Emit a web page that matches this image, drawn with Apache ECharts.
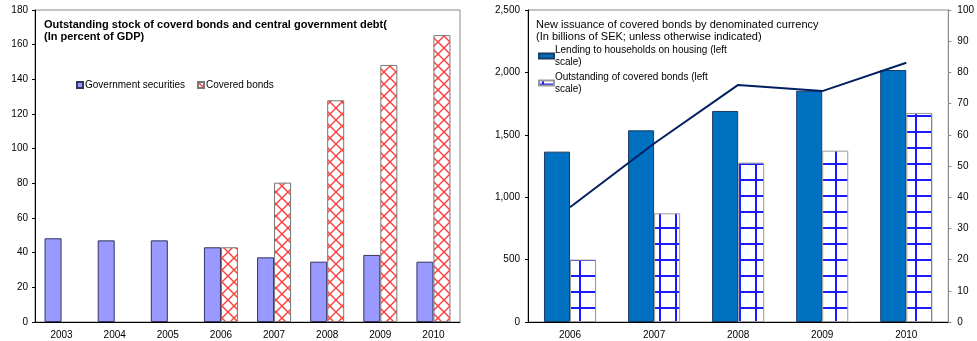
<!DOCTYPE html>
<html>
<head>
<meta charset="utf-8">
<script src="https://cdn.jsdelivr.net/npm/echarts@6/dist/echarts.min.js"></script>
<style>
  html, body { margin: 0; padding: 0; background: #fff; }
  #chart { width: 977px; height: 341px; }
</style>
</head>
<body>
<div id="chart"></div>
<script>
// Left panel: outstanding stock, % of GDP
const stockYears = ['2003', '2004', '2005', '2006', '2007', '2008', '2009', '2010'];
const govSecurities = [48.3, 47.1, 47.1, 43.1, 37.3, 34.8, 38.7, 34.8];
const coveredBonds = [null, null, null, 43.1, 80.4, 127.9, 148.3, 165.5];

// Right panel: issuance, billions of SEK (bars) and right-scale line
const issueYears = ['2006', '2007', '2008', '2009', '2010'];
const lendingHousing = [1365, 1536, 1691, 1853, 2019];
const outstandingCovered = [500, 871, 1277, 1373, 1675];
const rightScaleLine = [36.8, 57.2, 76.0, 74.0, 83.1];

const FONT = 'Liberation Sans, Arial, sans-serif';

// red lattice fill for covered bonds
function crossHatch() {
  const s = 12;
  const c = document.createElement('canvas');
  c.width = s; c.height = s;
  const g = c.getContext('2d');
  g.fillStyle = '#ffffff';
  g.fillRect(0, 0, s, s);
  g.strokeStyle = '#ff3c3c';
  g.lineWidth = 1.4;
  g.beginPath();
  g.moveTo(-1, -1); g.lineTo(s + 1, s + 1);
  g.moveTo(s + 1, -1); g.lineTo(-1, s + 1);
  g.stroke();
  return c;
}

// blue square grid fill for outstanding covered bonds
function blueGrid() {
  const s = 16;
  const c = document.createElement('canvas');
  c.width = s; c.height = s;
  const g = c.getContext('2d');
  g.fillStyle = '#ffffff';
  g.fillRect(0, 0, s, s);
  g.strokeStyle = '#1a1aff';
  g.lineWidth = 2;
  g.beginPath();
  g.moveTo(4, 0); g.lineTo(4, s);
  g.moveTo(0, 4); g.lineTo(s, 4);
  g.stroke();
  return c;
}

const redPattern = { image: crossHatch(), repeat: 'repeat' };
const bluePattern = { image: blueGrid(), repeat: 'repeat' };

const axisText = { color: '#000', fontSize: 10, fontFamily: FONT };

const chart = echarts.init(document.getElementById('chart'), null, { renderer: 'canvas' });

chart.setOption({
  animation: false,
  backgroundColor: '#fff',
  textStyle: { fontFamily: FONT },
  title: [
    {
      text: 'Outstanding stock of coverd bonds and central government debt(\n(In percent of GDP)',
      left: 39, top: 14,
      textStyle: { fontSize: 11, fontWeight: 'bold', color: '#000', fontFamily: FONT, lineHeight: 12 }
    },
    {
      text: 'New issuance of covered bonds by denominated currency\n(In billions of SEK; unless otherwise indicated)',
      left: 531, top: 14,
      textStyle: { fontSize: 11, fontWeight: 'normal', color: '#000', fontFamily: FONT, lineHeight: 12 }
    }
  ],
  legend: [
    {
      data: ['Government securities', 'Covered bonds'],
      left: 71, top: 75,
      orient: 'horizontal',
      itemWidth: 6, itemHeight: 6, itemGap: 12,
      icon: 'rect',
      textStyle: { fontSize: 10, color: '#000', fontFamily: FONT, padding: [0, 0, 0, -3] }
    },
    {
      data: ['Lending to households on housing (left\nscale)', 'Outstanding of covered bonds (left\nscale)'],
      left: 533, top: 33,
      orient: 'vertical',
      itemWidth: 15, itemHeight: 5, itemGap: -9,
      icon: 'rect',
      textStyle: { fontSize: 10, color: '#000', fontFamily: FONT, lineHeight: 12, padding: [12, 0, 0, -4] }
    }
  ],
  grid: [
    { left: 35, top: 10, width: 425, height: 312, show: true, borderColor: '#888', borderWidth: 1 },
    { left: 528, top: 10, width: 425, height: 312, show: true, borderColor: '#888', borderWidth: 1 }
  ],
  xAxis: [
    {
      type: 'category', gridIndex: 0, data: stockYears,
      axisLine: { lineStyle: { color: '#000', width: 1 } },
      axisTick: { inside: true, length: 4, lineStyle: { color: '#000' } },
      axisLabel: Object.assign({ margin: 8 }, axisText)
    },
    {
      type: 'category', gridIndex: 1, data: issueYears,
      axisLine: { lineStyle: { color: '#000', width: 1 } },
      axisTick: { inside: true, length: 4, lineStyle: { color: '#000' } },
      axisLabel: Object.assign({ margin: 8 }, axisText)
    }
  ],
  yAxis: [
    {
      type: 'value', gridIndex: 0, min: 0, max: 180, interval: 20,
      splitLine: { show: false },
      axisLine: { show: true, lineStyle: { color: '#000' } },
      axisTick: { show: true, length: 3, lineStyle: { color: '#000' } },
      axisLabel: Object.assign({ margin: 7 }, axisText)
    },
    {
      type: 'value', gridIndex: 1, min: 0, max: 2500, interval: 500,
      splitLine: { show: false },
      axisLine: { show: true, lineStyle: { color: '#000' } },
      axisTick: { show: true, length: 3, lineStyle: { color: '#000' } },
      axisLabel: Object.assign({ margin: 8, formatter: v => v.toLocaleString('en-US') }, axisText)
    },
    {
      type: 'value', gridIndex: 1, position: 'right', min: 0, max: 100, interval: 10,
      splitLine: { show: false },
      axisLine: { show: true, lineStyle: { color: '#888' } },
      axisTick: { show: true, length: 3, lineStyle: { color: '#888' } },
      axisLabel: Object.assign({ margin: 9, align: 'left' }, axisText)
    }
  ],
  series: [
    {
      name: 'Government securities', type: 'bar', xAxisIndex: 0, yAxisIndex: 0,
      data: govSecurities, barWidth: '32%', barGap: '0%',
      itemStyle: { color: '#9999ff', borderColor: '#33335e', borderWidth: 1 }
    },
    {
      name: 'Covered bonds', type: 'bar', xAxisIndex: 0, yAxisIndex: 0,
      data: coveredBonds, barWidth: '32%', barGap: '0%',
      itemStyle: { color: redPattern, borderColor: '#777', borderWidth: 1 }
    },
    {
      name: 'Lending to households on housing (left\nscale)', type: 'bar', xAxisIndex: 1, yAxisIndex: 1,
      data: lendingHousing, barWidth: '31%', barGap: '0%',
      itemStyle: { color: '#0070c0', borderColor: '#1f3a60', borderWidth: 1 }
    },
    {
      name: 'Outstanding of covered bonds (left\nscale)', type: 'bar', xAxisIndex: 1, yAxisIndex: 1,
      data: outstandingCovered, barWidth: '31%', barGap: '0%',
      itemStyle: { color: bluePattern, borderColor: '#999', borderWidth: 1 }
    },
    {
      name: 'Right scale', type: 'line', xAxisIndex: 1, yAxisIndex: 2,
      data: rightScaleLine, showSymbol: false, symbol: 'none',
      lineStyle: { color: '#002060', width: 2 },
      itemStyle: { color: '#002060' },
      z: 5
    }
  ]
});
</script>
</body>
</html>
